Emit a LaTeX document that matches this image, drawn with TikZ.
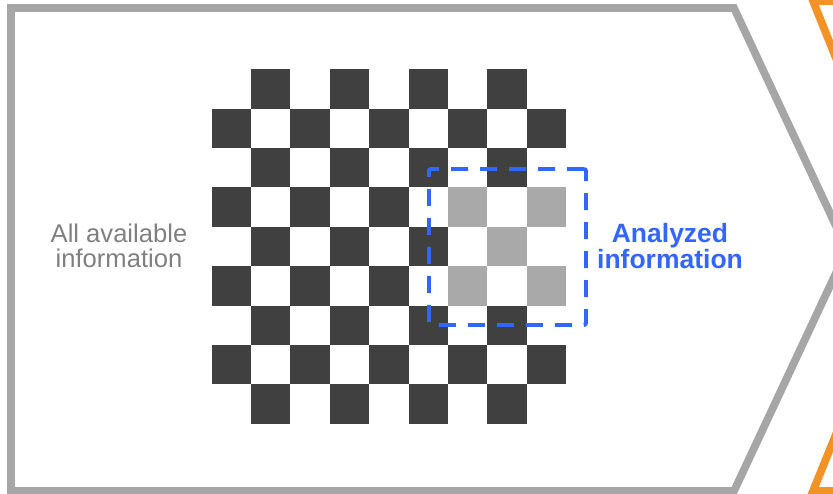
\documentclass[tikz,border=0pt]{standalone}
\usepackage{fontspec}
\setmainfont{Liberation Sans}
\usepackage{tikz}
\usetikzlibrary{positioning,calc}
\usepackage{xcolor}
\definecolor{outlinegray}{HTML}{A6A6A6}
\definecolor{cellgray}{HTML}{A9A9A9}
\definecolor{celldark}{HTML}{404040}
\definecolor{focusblue}{HTML}{3366FF}
\definecolor{nextorange}{HTML}{F39325}
\definecolor{textgray}{HTML}{808080}
\tikzset{
  stage/.style={line width=7.8pt, line join=miter},
  darkcell/.style={fill=celldark},
  lightcell/.style={fill=cellgray},
}

\begin{document}
\begin{tikzpicture}[
  x=1pt,y=-1pt,
  focusbox/.style={draw=focusblue, line width=3.8pt, rounded corners=2pt,
    dash pattern=on 17pt off 12pt, minimum width=157pt, minimum height=156pt,
    inner sep=0pt},
  every node/.style={font=\fontsize{25.6}{25.5}\selectfont, align=center}
]
\useasboundingbox (0,0) rectangle (833,493);

% Stages
\draw[stage, draw=outlinegray] (11,8) -- (734,8) -- (847,249.5) -- (734,491) -- (11,491) -- cycle;
\draw[stage, draw=nextorange] (870,1) -- (813,1) -- (912,247) -- (813,491) -- (870,491);

% Board
\def\cs{39.4}
\foreach \r in {0,...,8}
  \foreach \c in {0,...,8}{
    \pgfmathtruncatemacro\odd{mod(\r+\c,2)}
    \ifnum\odd=1
      \fill[darkcell] ({211.5+\c*\cs},{69.2+\r*\cs}) rectangle ++(\cs,\cs);
    \fi
  }
\fill[white] ({211.5+6*\cs},{69.2+3*\cs}) rectangle ++(3*\cs,3*\cs);
\foreach \r/\c in {3/6,3/8,4/7,5/6,5/8}
  \fill[lightcell] ({211.5+\c*\cs},{69.2+\r*\cs}) rectangle ++(\cs,\cs);

% Focus
\node[focusbox] (focus) at (507.5,247) {};

% Labels
\node[text=textgray] (allinfo) at (119,246) {All available\\information};
\node[text=focusblue, font=\bfseries\fontsize{26.5}{24.5}\selectfont] (analyzed) at (670,246) {Analyzed\\information};

\end{tikzpicture}
\end{document}
